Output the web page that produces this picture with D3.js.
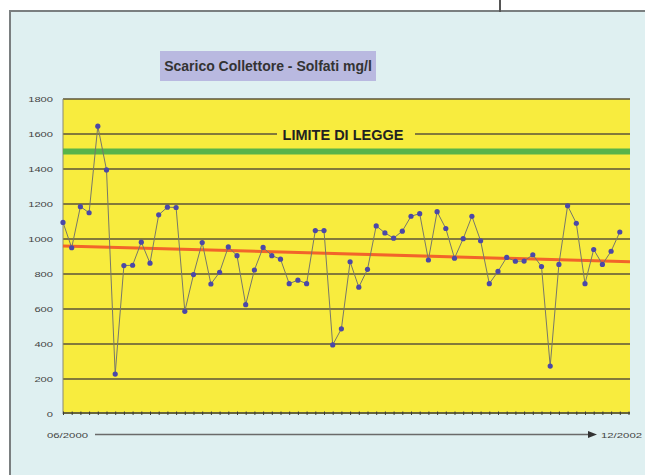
<!DOCTYPE html>
<html>
<head>
<meta charset="utf-8">
<script src="https://cdn.jsdelivr.net/npm/d3@7"></script>
<style>
  html, body { margin: 0; padding: 0; background: #ffffff; }
  svg { display: block; }
  text { font-family: "Liberation Sans", Arial, sans-serif; }
</style>
</head>
<body>
<svg id="chart" width="645" height="475"></svg>
<script>
// Solfati (mg/l) measured at the collector outlet, 06/2000 -> 12/2002
const solfati = [
  1095, 950, 1185, 1150, 1645, 1395, 228, 848, 850, 982,
  862, 1138, 1182, 1180, 587, 797, 980, 743, 810, 955,
  905, 625, 823, 952, 905, 885, 745, 765, 745, 1048,
  1048, 395, 487, 870, 725, 827, 1075, 1035, 1005, 1045,
  1130, 1145, 880, 1156, 1060, 890, 1002, 1130, 990, 745,
  815, 895, 873, 874, 910, 843, 274, 855, 1190, 1090,
  745, 940, 855, 930, 1040
];
// sampling slots along the time axis (the last slot has no sample yet)
const slots = d3.range(66);
const startLabel = "06/2000";
const endLabel = "12/2002";
const yTicks = [0, 200, 400, 600, 800, 1000, 1200, 1400, 1600, 1800];
const limiteLegge = 1500;
const limiteLabel = "LIMITE DI LEGGE";
const trendEnds = [960, 870];
const title = "Scarico Collettore - Solfati mg/l";

const svg = d3.select("#chart");

// panel frame
svg.append("rect").attr("x", 10).attr("y", 11).attr("width", 640).attr("height", 470)
  .attr("fill", "#dff0f1").attr("stroke", "#7a7f80").attr("stroke-width", 2);
svg.append("line").attr("x1", 500).attr("x2", 500).attr("y1", 0).attr("y2", 12)
  .attr("stroke", "#555").attr("stroke-width", 2);

const plot = { left: 63, right: 630, top: 99, bottom: 414 };

const x = d3.scalePoint().domain(slots).range([plot.left, plot.right - 1.5]);
const y = d3.scaleLinear().domain([0, 1800]).range([plot.bottom, plot.top]);

// title box
const tg = svg.append("g");
tg.append("rect").attr("x", 160).attr("y", 51).attr("width", 216).attr("height", 30)
  .attr("fill", "#b9b9e0");
tg.append("text").attr("x", 268).attr("y", 71).attr("text-anchor", "middle")
  .attr("font-size", 14).attr("font-weight", "bold").attr("fill", "#333")
  .text(title);

// plot background
svg.append("rect").attr("x", plot.left).attr("y", plot.top)
  .attr("width", plot.right - plot.left).attr("height", plot.bottom - plot.top)
  .attr("fill", "#f8ec3e");

// horizontal grid lines (gap on 1600 for the limit label)
const gridColor = "#5d553a";
yTicks.filter(v => v > 0).forEach(v => {
  if (v === 1600) {
    [[plot.left, 277], [415, plot.right]].forEach(([a, b]) => {
      svg.append("line").attr("x1", a).attr("x2", b)
        .attr("y1", y(v)).attr("y2", y(v))
        .attr("stroke", gridColor).attr("stroke-width", 1.3);
    });
  } else {
    svg.append("line").attr("x1", plot.left).attr("x2", plot.right)
      .attr("y1", y(v)).attr("y2", y(v))
      .attr("stroke", gridColor).attr("stroke-width", 1.3);
  }
});

// y axis labels
yTicks.forEach(v => {
  const s = String(v);
  svg.append("text").attr("x", 53).attr("y", y(v) + 3)
    .attr("text-anchor", "end").attr("font-size", 8).attr("fill", "#444")
    .attr("textLength", s.length * 6.2).attr("lengthAdjust", "spacingAndGlyphs")
    .text(s);
});

// left edge and category axis with one tick per slot
svg.append("line").attr("x1", plot.left).attr("x2", plot.left)
  .attr("y1", plot.top).attr("y2", plot.bottom)
  .attr("stroke", "#8a8a70").attr("stroke-width", 1);
const xAxis = d3.axisBottom(x).tickSize(3).tickFormat("");
const xg = svg.append("g").attr("transform", `translate(0,${plot.bottom - 1})`).call(xAxis);
xg.select(".domain").attr("stroke", "#3a3a3a").attr("stroke-width", 1.5)
  .attr("d", `M${plot.left},0H${plot.right}`);
xg.selectAll(".tick line").attr("stroke", "#3a3a3a").attr("y1", -1.5).attr("y2", 2);

// legal limit
svg.append("line").attr("x1", plot.left).attr("x2", plot.right)
  .attr("y1", y(limiteLegge)).attr("y2", y(limiteLegge))
  .attr("stroke", "#58b44a").attr("stroke-width", 6);
svg.append("text").attr("x", 343).attr("y", y(1600) + 6).attr("text-anchor", "middle")
  .attr("font-size", 14.5).attr("font-weight", "bold").attr("fill", "#222")
  .text(limiteLabel);

// trend line
svg.append("line")
  .attr("x1", plot.left).attr("x2", plot.right)
  .attr("y1", y(trendEnds[0])).attr("y2", y(trendEnds[1]))
  .attr("stroke", "#f2642a").attr("stroke-width", 3);

// measured series
const line = d3.line().x((d, i) => x(slots[i])).y(d => y(d));
svg.append("path").datum(solfati).attr("d", line)
  .attr("fill", "none").attr("stroke", "#77776a").attr("stroke-width", 1);
svg.selectAll("circle.pt").data(solfati).enter().append("circle")
  .attr("class", "pt")
  .attr("cx", (d, i) => x(slots[i])).attr("cy", d => y(d)).attr("r", 2.6)
  .attr("fill", "#4b48a8");

// time arrow
svg.append("text").attr("x", 47).attr("y", 438).attr("font-size", 8).attr("fill", "#444")
  .attr("textLength", 41).attr("lengthAdjust", "spacingAndGlyphs").text(startLabel);
svg.append("line").attr("x1", 95).attr("x2", 590).attr("y1", 434.5).attr("y2", 434.5)
  .attr("stroke", "#6a6a6a").attr("stroke-width", 1.5);
svg.append("path").attr("d", "M588,431 L597,434.5 L588,438 Z").attr("fill", "#333");
svg.append("text").attr("x", 601).attr("y", 438).attr("font-size", 8).attr("fill", "#444")
  .attr("textLength", 41).attr("lengthAdjust", "spacingAndGlyphs").text(endLabel);
</script>
</body>
</html>
